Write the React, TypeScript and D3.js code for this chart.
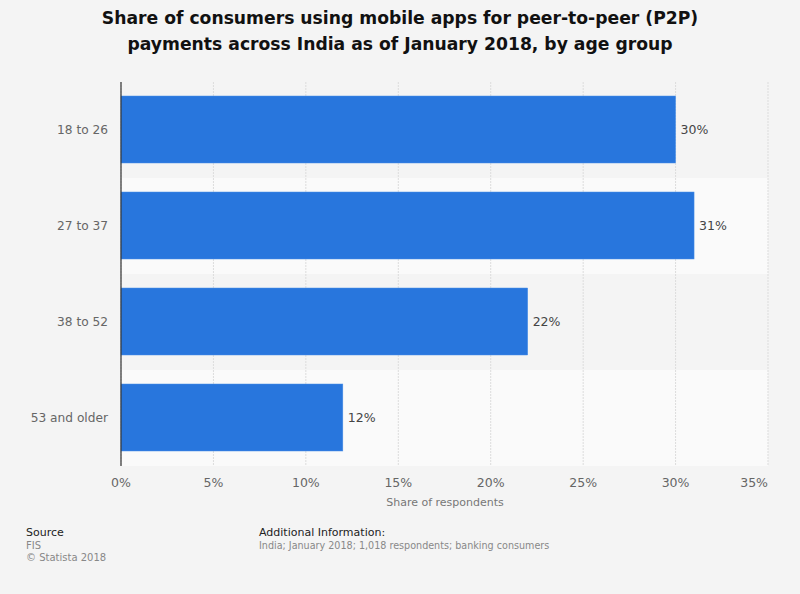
import React from "react";
import * as d3 from "d3";

const categories = ["18 to 26", "27 to 37", "38 to 52", "53 and older"];
const values = [30, 31, 22, 12];
const xTicks = [0, 5, 10, 15, 20, 25, 30, 35];

const W = 800;
const H = 594;
const M = { left: 121, right: 768, top: 82, bottom: 466 };
const FONT = "'DejaVu Sans', sans-serif";

export default function App() {
  const x = d3.scaleLinear().domain([0, 35]).range([M.left, M.right]);
  const band = d3.scaleBand<string>().domain(categories).range([M.top, M.bottom]).paddingInner(0).paddingOuter(0);
  const bh = 67;
  return (
    <svg width={W} height={H} style={{ position: "absolute", left: 0, top: 0, display: "block" }} fontFamily={FONT}>
      <rect x={0} y={0} width={W} height={H} fill="#f4f4f4" />
      <text x={400} y={23.5} textAnchor="middle" fontSize={17.2} fontWeight="bold" fill="#111">
        Share of consumers using mobile apps for peer-to-peer (P2P)
      </text>
      <text x={400} y={49.5} textAnchor="middle" fontSize={17.2} fontWeight="bold" fill="#111">
        payments across India as of January 2018, by age group
      </text>
      {categories.map((c, i) => (
        <rect key={"b" + c} x={M.left} y={band(c)!} width={M.right - M.left} height={band.bandwidth()} fill={i % 2 === 0 ? "#f4f4f4" : "#fafafa"} />
      ))}
      {xTicks.map((t) => (
        <line key={"g" + t} x1={x(t)} x2={x(t)} y1={M.top} y2={M.bottom} stroke="#dcdcdc" strokeWidth={1} strokeDasharray="2,1" />
      ))}
      {categories.map((c, i) => {
        const y0 = band(c)! + (band.bandwidth() - bh) / 2 - 0.5;
        return (
          <g key={"bar" + c}>
            <rect x={M.left} y={y0} width={x(values[i]) - M.left} height={bh} fill="#2876dd" stroke="#4a8fe8" strokeWidth={0.5} />
            <text x={x(values[i]) + 5} y={y0 + bh / 2 + 4.5} fontSize={12.5} fill="#444">{values[i]}%</text>
            <text x={108} y={y0 + bh / 2 + 4.5} textAnchor="end" fontSize={12.2} fill="#666">{c}</text>
          </g>
        );
      })}
      <line x1={M.left} x2={M.left} y1={M.top} y2={M.bottom} stroke="#333" strokeWidth={1.2} />
      {xTicks.map((t) => (
        <text key={"t" + t} x={x(t)} y={487} textAnchor={t === 35 ? "end" : "middle"} fontSize={12.5} fill="#666">
          {t}%
        </text>
      ))}
      <text x={445} y={506} textAnchor="middle" fontSize={11} fill="#777">Share of respondents</text>
      <text x={26} y={536} fontSize={11} fill="#222">Source</text>
      <text x={26} y={549} fontSize={10} fill="#888">FIS</text>
      <text x={26} y={561} fontSize={10} fill="#888">© Statista 2018</text>
      <text x={259} y={536} fontSize={11} fill="#222">Additional Information:</text>
      <text x={259} y={549} fontSize={9.6} fill="#888">India; January 2018; 1,018 respondents; banking consumers</text>
    </svg>
  );
}
